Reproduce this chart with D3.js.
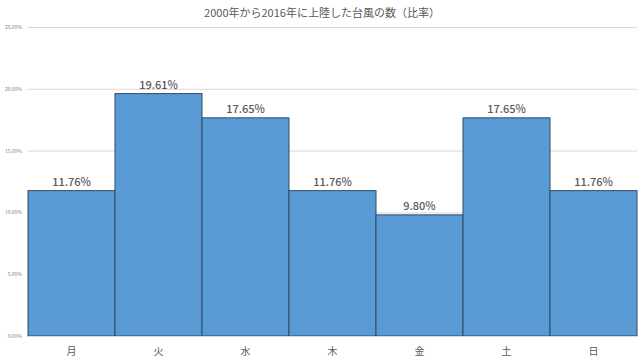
<!DOCTYPE html>
<html>
<head>
<meta charset="utf-8">
<script src="https://cdn.jsdelivr.net/npm/d3@7"></script>
<style>
  html, body { margin: 0; padding: 0; background: #fff; }
  svg { display: block; font-family: "Noto Sans CJK JP", "Noto Sans", sans-serif; }
</style>
</head>
<body>
<div id="chart"></div>
<script>
var title = '2000年から2016年に上陸した台風の数（比率）'
var days = ['月', '火', '水', '木', '金', '土', '日']
var shares = [11.76, 19.61, 17.65, 11.76, 9.80, 17.65, 11.76]
var yTicks = [0, 5, 10, 15, 20, 25]

var width = 644
var height = 362
var margin = { left: 28, right: 7, top: 27, bottom: 26 }

var svg = d3.select('#chart').append('svg')
  .attr('width', width)
  .attr('height', height)

var x = d3.scaleBand()
  .domain(days)
  .range([margin.left, width - margin.right])
  .padding(0)

var y = d3.scaleLinear()
  .domain([0, 25])
  .range([height - margin.bottom, margin.top])

// title
svg.append('text')
  .attr('x', width / 2)
  .attr('y', 17)
  .attr('text-anchor', 'middle')
  .style('font-size', '11px')
  .style('fill', '#595959')
  .text(title)

// gridlines
var grid = svg.append('g')
  .attr('transform', 'translate(' + margin.left + ',0)')
  .call(d3.axisLeft(y)
    .tickValues(yTicks)
    .tickSize(-(width - margin.left - margin.right))
    .tickFormat(''))
grid.select('.domain').remove()
grid.selectAll('line').attr('stroke', '#d9d9d9').attr('stroke-width', 1)

// y tick labels
svg.append('g').selectAll('text')
  .data(yTicks)
  .enter().append('text')
  .attr('x', 22)
  .attr('y', function (d) { return y(d) + 2 })
  .attr('text-anchor', 'end')
  .style('font-size', '5px')
  .style('fill', '#7f7f7f')
  .text(function (d) { return d.toFixed(2) + '%' })

// bars
svg.append('g').selectAll('rect')
  .data(shares)
  .enter().append('rect')
  .attr('x', function (d, i) { return x(days[i]) })
  .attr('y', function (d) { return y(d) })
  .attr('width', x.bandwidth())
  .attr('height', function (d) { return y(0) - y(d) })
  .attr('fill', '#5b9bd5')
  .attr('stroke', '#2e4a66')
  .attr('stroke-width', 1)

// value labels
svg.append('g').selectAll('text')
  .data(shares)
  .enter().append('text')
  .attr('x', function (d, i) { return x(days[i]) + x.bandwidth() / 2 })
  .attr('y', function (d) { return y(d) - 5 })
  .attr('text-anchor', 'middle')
  .style('font-size', '11px')
  .style('font-weight', '500')
  .style('fill', '#595959')
  .text(function (d) { return d.toFixed(2) + '%' })

// x axis
svg.append('line')
  .attr('x1', margin.left)
  .attr('x2', width - margin.right)
  .attr('y1', y(0) + 0.5)
  .attr('y2', y(0) + 0.5)
  .attr('stroke', '#d9d9d9')

svg.append('g').selectAll('text')
  .data(days)
  .enter().append('text')
  .attr('x', function (d) { return x(d) + x.bandwidth() / 2 })
  .attr('y', 355)
  .attr('text-anchor', 'middle')
  .style('font-size', '10px')
  .style('fill', '#595959')
  .text(function (d) { return d })
</script>
</body>
</html>
